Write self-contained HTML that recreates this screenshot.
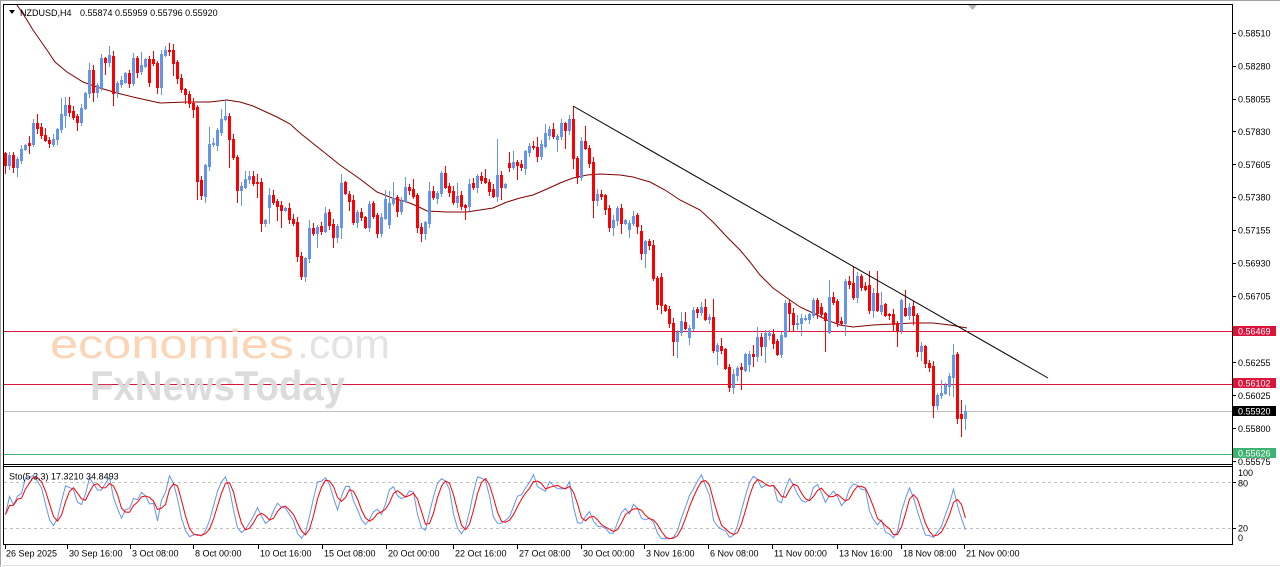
<!DOCTYPE html>
<html><head><meta charset="utf-8">
<style>
html,body{margin:0;padding:0;background:#fff;overflow:hidden;}
svg{display:block;}
text{font-family:"Liberation Sans",sans-serif;font-size:9px;fill:#000;}
.w{fill:#fff;}
</style></head><body>
<svg id="c" width="1280" height="567" viewBox="0 0 1280 567" xmlns="http://www.w3.org/2000/svg">
<defs>
<clipPath id="mc"><rect x="4" y="5" width="1228" height="459"/></clipPath>
<clipPath id="sc"><rect x="4" y="467" width="1228" height="77"/></clipPath>
</defs>
<rect width="1280" height="567" fill="#fff"/>
<!-- outer frame -->
<rect x="0" y="0" width="1280" height="1" fill="#a0a0a0"/>
<rect x="0" y="0" width="1" height="567" fill="#a0a0a0"/>
<rect x="0" y="565" width="1280" height="1" fill="#e2e2e2"/>

<!-- horizontal levels -->
<g clip-path="url(#mc)">
<rect x="4" y="331" width="1228" height="1" fill="#DC143C"/>
<rect x="4" y="384" width="1228" height="1" fill="#DC143C"/>
<rect x="4" y="411" width="1228" height="1" fill="#C0C0C0"/>
<rect x="4" y="454" width="1228" height="1" fill="#3CB371"/>
</g>

<!-- watermark -->
<g>
<text x="50" y="358" textLength="244" lengthAdjust="spacingAndGlyphs" style="font-size:41px;fill:#fcd4b6;">economies</text>
<text x="297" y="358" textLength="93" lengthAdjust="spacingAndGlyphs" style="font-size:41px;fill:#e3e3e3;">.com</text>
<text x="90" y="400" textLength="255" lengthAdjust="spacingAndGlyphs" style="font-size:42px;font-weight:bold;fill:#dcdcdc;">FxNewsToday</text>
</g>

<!-- MA -->
<g clip-path="url(#mc)">
<polyline fill="none" stroke="#800000" stroke-width="1" points="15,3 17,5 27,20 33,30 47,50 55,62 67,72 83,82 100,88 117,93 133,97 160,103 187,102 210,102 227,100 240,102 253,106 277,117 290,124 300,133 320,149 340,165 360,179 377,192 392,198 407,202 417,206 427,211 447,212 467,212 480,210 493,208 507,202 520,198 533,195 547,189 560,183 573,178 587,175 600,174 620,175 633,177 650,182 665,190 680,200 700,210 713,222 727,237 740,250 750,262 760,275 773,288 787,298 800,307 813,313 827,320 840,325 853,327 873,325 893,324 913,323 933,323 950,325 967,328"/>
<g id="cd"></g>
<line x1="573" y1="106" x2="1048" y2="378" stroke="#000" stroke-width="1"/>
</g>

<!-- frames -->
<rect x="3" y="4" width="1230" height="1" fill="#000"/>
<rect x="3" y="4" width="1" height="541" fill="#000"/>
<rect x="1232" y="4" width="1" height="541" fill="#000"/>
<rect x="3" y="464" width="1230" height="1" fill="#000"/>
<rect x="3" y="466" width="1230" height="1" fill="#000"/>
<rect x="3" y="544" width="1230" height="1" fill="#000"/>

<!-- shift marker -->
<polygon points="968,5 977,5 972.5,10" fill="#b4b4b4"/>

<!-- title -->
<polygon points="9,10 15,10 12,14" fill="#000"/>
<text x="20" y="16">NZDUSD,H4</text>
<text x="80" y="16">0.55874 0.55959 0.55796 0.55920</text>

<!-- price axis -->
<g fill="#000">
<rect x="1233" y="33" width="3" height="1"/>
<rect x="1233" y="66" width="3" height="1"/>
<rect x="1233" y="99" width="3" height="1"/>
<rect x="1233" y="131" width="3" height="1"/>
<rect x="1233" y="164" width="3" height="1"/>
<rect x="1233" y="197" width="3" height="1"/>
<rect x="1233" y="230" width="3" height="1"/>
<rect x="1233" y="263" width="3" height="1"/>
<rect x="1233" y="296" width="3" height="1"/>
<rect x="1233" y="362" width="3" height="1"/>
<rect x="1233" y="395" width="3" height="1"/>
<rect x="1233" y="428" width="3" height="1"/>
<rect x="1233" y="461" width="3" height="1"/>
<rect x="1233" y="482" width="3" height="1"/>
<rect x="1233" y="528" width="3" height="1"/>
</g>
<text x="1238" y="36.5">0.58510</text>
<text x="1238" y="69.5">0.58280</text>
<text x="1238" y="102.5">0.58055</text>
<text x="1238" y="135">0.57830</text>
<text x="1238" y="168">0.57605</text>
<text x="1238" y="200.5">0.57380</text>
<text x="1238" y="233.5">0.57155</text>
<text x="1238" y="266.5">0.56930</text>
<text x="1238" y="299.5">0.56705</text>
<text x="1238" y="366">0.56255</text>
<text x="1238" y="399">0.56025</text>
<text x="1238" y="432">0.55800</text>
<text x="1238" y="465">0.55575</text>

<rect x="1233" y="326" width="43" height="10" fill="#DC143C"/>
<text class="w" x="1238" y="334.4">0.56469</text>
<rect x="1233" y="378" width="43" height="10" fill="#DC143C"/>
<text class="w" x="1238" y="386.4">0.56102</text>
<rect x="1233" y="406" width="43" height="10" fill="#000"/>
<text class="w" x="1238" y="414.4">0.55920</text>
<rect x="1233" y="448" width="43" height="10" fill="#3CB371"/>
<text class="w" x="1238" y="456.4">0.55626</text>
<rect x="1233" y="465" width="47" height="1" fill="#fff"/>

<!-- stochastic panel -->
<g clip-path="url(#sc)">
<line x1="4" y1="482.5" x2="1232" y2="482.5" stroke="#c0c0c0" stroke-width="1" stroke-dasharray="3,3"/>
<line x1="4" y1="528.5" x2="1232" y2="528.5" stroke="#c0c0c0" stroke-width="1" stroke-dasharray="3,3"/>
<polyline id="sk" fill="none" stroke="#6495ED" stroke-width="1" points=""/>
<polyline id="sd" fill="none" stroke="#FF0000" stroke-width="1" points=""/>
</g>
<text x="9" y="479.5">Sto(5,3,3) 17.3210 34.8493</text>
<text x="1238" y="476">100</text>
<text x="1238" y="486.5">80</text>
<text x="1238" y="531.5">20</text>
<text x="1238" y="541">0</text>

<!-- time axis -->
<g fill="#000">
<rect x="5" y="545" width="1" height="4"/>
<rect x="67" y="545" width="1" height="4"/>
<rect x="130" y="545" width="1" height="4"/>
<rect x="193" y="545" width="1" height="4"/>
<rect x="258" y="545" width="1" height="4"/>
<rect x="322" y="545" width="1" height="4"/>
<rect x="386" y="545" width="1" height="4"/>
<rect x="453" y="545" width="1" height="4"/>
<rect x="517" y="545" width="1" height="4"/>
<rect x="581" y="545" width="1" height="4"/>
<rect x="644" y="545" width="1" height="4"/>
<rect x="708" y="545" width="1" height="4"/>
<rect x="772" y="545" width="1" height="4"/>
<rect x="837" y="545" width="1" height="4"/>
<rect x="901" y="545" width="1" height="4"/>
<rect x="964" y="545" width="1" height="4"/>
</g>
<text x="6" y="556.5">26 Sep 2025</text>
<text x="69" y="556.5">30 Sep 16:00</text>
<text x="132" y="556.5">3 Oct 08:00</text>
<text x="195" y="556.5">8 Oct 00:00</text>
<text x="260" y="556.5">10 Oct 16:00</text>
<text x="324" y="556.5">15 Oct 08:00</text>
<text x="388" y="556.5">20 Oct 00:00</text>
<text x="455" y="556.5">22 Oct 16:00</text>
<text x="519" y="556.5">27 Oct 08:00</text>
<text x="583" y="556.5">30 Oct 00:00</text>
<text x="646" y="556.5">3 Nov 16:00</text>
<text x="710" y="556.5">6 Nov 08:00</text>
<text x="774" y="556.5">11 Nov 00:00</text>
<text x="839" y="556.5">13 Nov 16:00</text>
<text x="903" y="556.5">18 Nov 08:00</text>
<text x="966" y="556.5">21 Nov 00:00</text>
</svg>
<script>
(function(){
var D=[
[0,153,165,152,173],[1,155,165,0,0],[0,155,167,152,172],[1,159,167,0,176],[1,149,160,0,0],
[1,145,149,0,0],[0,143,145,136,153],[1,123,144,119,0],[0,123,128,114,0],[0,127,135,0,0],
[0,135,140,128,0],[0,140,143,0,0],[1,139,144,0,0],[1,129,139,128,0],[1,114,129,98,0],
[1,105,115,97,127],[0,105,112,97,0],[0,111,117,0,0],[0,116,122,0,130],[1,108,122,0,0],
[1,93,108,0,0],[1,70,93,63,0],[0,70,92,0,101],[1,85,92,0,0],[1,58,87,0,0],
[0,58,62,0,74],[1,55,62,46,0],[0,56,93,0,105],[1,83,92,0,0],[1,80,84,0,0],
[1,73,82,0,0],[0,73,83,0,0],[1,58,83,0,0],[0,58,72,0,0],[1,65,71,52,0],
[1,59,66,0,0],[0,59,82,0,0],[0,59,63,51,0],[0,63,87,0,93],[1,54,87,0,94],
[1,50,55,46,0],[0,50,51,43,0],[0,50,63,44,75],[0,62,78,0,0],[0,78,89,0,0],
[0,89,94,0,103],[0,94,103,0,107],[0,103,109,0,117],[0,107,181,0,199],[0,180,195,0,199],
[1,165,196,0,202],[1,144,166,127,0],[1,143,144,0,0],[1,130,145,0,0],[1,119,132,109,0],
[1,116,119,99,0],[0,116,139,0,167],[0,139,157,0,0],[0,157,190,0,202],[1,186,190,0,205],
[1,179,187,171,0],[1,176,179,171,0],[0,176,183,0,0],[0,182,183,174,197],[0,182,223,0,231],
[1,220,223,0,226],[1,195,207,188,223],[0,195,202,0,0],[0,201,206,0,220],[0,205,210,0,227],
[1,208,210,0,0],[0,208,219,203,0],[0,219,223,0,0],[0,222,256,217,0],[0,256,276,0,0],
[1,258,276,0,281],[1,228,258,220,0],[0,228,233,0,0],[1,227,233,0,247],[0,226,231,0,0],
[1,213,231,207,0],[0,212,225,0,0],[0,224,237,0,247],[1,226,237,0,0],[1,183,227,174,238],
[0,182,193,0,0],[0,194,201,0,210],[0,200,222,0,0],[1,212,222,0,0],[0,212,217,0,0],
[0,217,227,0,0],[1,204,227,0,0],[0,203,216,201,0],[0,215,233,0,237],[1,217,233,0,0],
[1,199,218,190,0],[1,203,224,191,0],[1,198,203,182,0],[0,197,211,0,0],[1,201,211,0,0],
[1,187,201,177,0],[0,187,190,0,0],[0,189,196,179,0],[0,195,227,0,0],[0,227,233,0,241],
[1,222,233,0,239],[1,191,223,182,0],[0,191,197,0,0],[1,193,198,0,0],[1,173,193,171,0],
[0,173,187,166,0],[0,186,192,0,0],[0,191,202,0,0],[1,196,202,183,0],[0,195,206,0,0],
[0,205,207,0,219],[1,184,206,179,0],[0,183,187,0,0],[1,176,187,174,0],[0,176,180,0,0],
[0,178,182,169,0],[0,182,191,0,0],[0,189,196,0,197],[1,175,196,139,0],[0,175,187,0,199],
[1,184,187,0,0],[0,163,167,152,171],[1,162,167,151,0],[0,162,165,0,179],[0,164,167,0,0],
[1,151,168,0,174],[1,146,152,0,0],[0,146,147,0,0],[0,147,156,137,0],[1,144,156,0,0],
[1,133,146,124,0],[1,129,135,0,0],[0,129,136,123,0],[1,136,139,0,151],[1,123,136,0,0],
[0,123,130,0,148],[1,119,130,115,0],[0,119,158,106,168],[0,158,177,0,183],[1,141,177,0,0],
[0,141,148,126,0],[0,148,163,0,0],[0,162,200,0,217],[1,194,200,189,0],[0,194,196,0,0],
[0,195,209,0,214],[0,208,227,0,0],[1,220,227,0,235],[1,208,220,0,0],[0,208,223,0,233],
[1,220,223,0,0],[1,223,229,0,237],[1,216,223,211,0],[0,215,226,0,233],[0,231,253,225,259],
[1,241,253,0,267],[0,241,245,239,0],[0,245,278,0,0],[0,278,304,0,0],[0,277,305,0,313],
[0,305,310,0,0],[0,309,323,0,0],[0,323,341,0,355],[1,332,341,0,357],[1,321,332,312,0],
[0,322,328,312,0],[1,328,337,0,344],[1,310,328,307,0],[0,309,312,0,0],[1,307,312,302,0],
[0,307,319,299,0],[1,317,319,0,0],[0,317,350,299,0],[1,345,351,0,364],[0,346,350,338,0],
[0,349,368,0,0],[0,367,387,0,0],[1,374,387,0,393],[1,368,375,366,0],[0,367,369,0,389],
[1,354,370,0,0],[1,354,364,0,371],[0,354,356,345,366],[1,337,356,327,0],[0,337,346,0,355],
[1,333,346,330,362],[1,333,335,330,0],[0,334,343,0,348],[0,341,354,0,355],[1,335,354,332,0],
[1,303,336,300,0],[0,303,313,0,331],[0,313,324,0,331],[1,323,324,315,0],[1,318,323,0,335],
[1,318,319,315,0],[1,314,319,313,0],[1,300,315,298,0],[0,300,313,298,0],[0,307,314,0,0],
[0,313,320,0,351],[1,297,332,280,333],[0,297,302,0,0],[0,301,322,0,326],[0,321,323,0,325],
[1,281,323,279,335],[0,281,284,276,0],[0,283,297,267,0],[1,276,297,272,0],[0,276,287,274,0],
[0,286,289,282,0],[0,285,310,271,313],[1,293,310,0,317],[0,293,310,271,311],[1,305,311,292,0],
[0,304,315,0,316],[0,314,315,313,0],[0,314,324,0,330],[0,323,330,0,346],[1,300,330,299,0],
[0,308,315,290,0],[1,307,315,303,0],[0,306,315,0,324],[0,315,351,0,0],[1,346,351,342,360],
[0,346,363,0,367],[0,363,367,0,0],[0,366,405,0,417],[1,395,405,0,409],[1,393,395,380,398],
[1,385,393,383,0],[1,376,386,0,395],[1,355,377,344,396],[0,354,418,0,0],[0,414,418,400,436],
[1,411,418,405,429]
];
var NS="http://www.w3.org/2000/svg";
var g=document.getElementById('cd');
function R(x,y,w,h,f){var r=document.createElementNS(NS,'rect');r.setAttribute('x',x);r.setAttribute('y',y);r.setAttribute('width',w);r.setAttribute('height',h);r.setAttribute('fill',f);g.appendChild(r);}
var H=[],L=[],C=[];
for(var i=0;i<D.length;i++){
 var d=D[i],col=d[0]?'#6495ED':'#FF0000',t=d[1],b=d[2];
 var h=(d[3]&&d[3]<t)?d[3]:t-1-((i*37)%5);
 var l=(d[4]&&d[4]>b)?d[4]:b+1+((i*53)%5);
 H.push(h);L.push(l);C.push(d[0]?t:b);
 var x=5+4*i;
 R(x,h,1,l-h+1,col);
 R(x-1,t,3,Math.max(1,b-t+1),col);
}
var num=[],den=[],K=[],S=[];
for(i=0;i<D.length;i++){
 var hh=1e9,ll=-1e9;
 for(var j=Math.max(0,i-4);j<=i;j++){if(H[j]<hh)hh=H[j];if(L[j]>ll)ll=L[j];}
 num.push(ll-C[i]);den.push(ll-hh);
}
for(i=0;i<D.length;i++){
 var sn=0,sd=0;
 for(j=Math.max(0,i-2);j<=i;j++){sn+=num[j];sd+=den[j];}
 K.push(sd>0?100*sn/sd:50);
}
for(i=0;i<D.length;i++){
 var s=0,n=0;
 for(j=Math.max(0,i-2);j<=i;j++){s+=K[j];n++;}
 S.push(s/n);
}
function Y(v){return (528.5-(v-20)*46/60).toFixed(1);}
var pk=[],pd=[];
for(i=0;i<D.length;i++){var xx=(5.5+4*i).toFixed(1);pk.push(xx+','+Y(K[i]));pd.push(xx+','+Y(S[i]));}
document.getElementById('sk').setAttribute('points',pk.join(' '));
document.getElementById('sd').setAttribute('points',pd.join(' '));
})();
</script>
</body></html>
